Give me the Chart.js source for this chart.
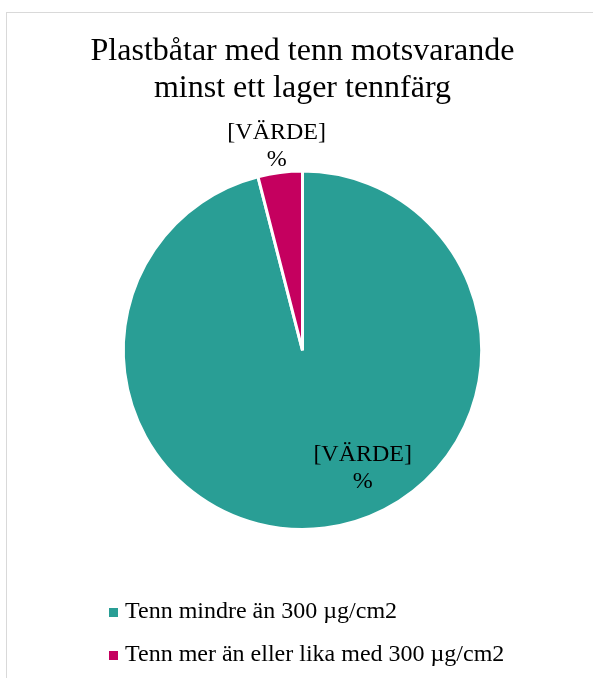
<!DOCTYPE html>
<html>
<head>
<meta charset="utf-8">
<script src="https://cdn.jsdelivr.net/npm/chart.js@4/dist/chart.umd.min.js"></script>
<style>
    html, body { margin: 0; padding: 0; background: #fff; }
    body { width: 593px; height: 678px; position: relative; overflow: hidden; }
    .frame {
        position: absolute; left: 6px; top: 12px; width: 700px; height: 700px;
        border: 1px solid #d9d9d9; box-sizing: border-box;
    }
    .chart-box { position: absolute; left: 0; top: 0; width: 593px; height: 678px; }
    #legend {
        position: absolute; left: 109px; top: 589px;
        font-family: 'Liberation Serif', 'Times New Roman', serif; font-size: 24px; color: #000;
    }
    #legend .item { line-height: 43px; white-space: nowrap; }
    #legend .box {
        display: inline-block; width: 9px; height: 9px; margin-right: 7px; vertical-align: middle;
    }
</style>
</head>
<body>
<div class="frame"></div>
<div class="chart-box"><canvas id="pieChart" width="593" height="678"></canvas></div>
<div id="legend"></div>

<script>
// data
const titleLines = ['Plastbåtar med tenn motsvarande', 'minst ett lager tennfärg'];
const categories = ['Tenn mindre än 300 µg/cm2', 'Tenn mer än eller lika med 300 µg/cm2'];
const shares = [96, 4];
const sliceLabels = [['[VÄRDE]', '%'], ['[VÄRDE]', '%']];
const sliceColors = ['#299E95', '#C5005F'];

const SERIF = "'Liberation Serif', 'Times New Roman', serif";

// where each data label goes: angle in degrees clockwise from top (null = slice middle), distance as share of radius
const labelSpots = [
    { angle: 153, dist: 0.74 },
    { angle: null, dist: 1.15 }
];

const pieLabels = {
    id: 'pieLabels',
    afterDatasetsDraw(chart) {
        const ctx = chart.ctx;
        const arcs = chart.getDatasetMeta(0).data;
        ctx.save();
        ctx.font = '24px ' + SERIF;
        ctx.fillStyle = '#000';
        ctx.textAlign = 'center';
        ctx.textBaseline = 'middle';
        arcs.forEach((arc, i) => {
            const p = arc.getProps(['x', 'y', 'startAngle', 'endAngle', 'outerRadius'], true);
            const spot = labelSpots[i];
            const a = spot.angle === null
                ? (p.startAngle + p.endAngle) / 2
                : (spot.angle - 90) * Math.PI / 180;
            const r = p.outerRadius * spot.dist;
            const cx = p.x + Math.cos(a) * r;
            const cy = p.y + Math.sin(a) * r;
            const lines = sliceLabels[i];
            const lh = 27;
            lines.forEach((t, k) => {
                ctx.fillText(t, cx, cy + (k - (lines.length - 1) / 2) * lh);
            });
        });
        ctx.restore();
    }
};

const ctx = document.getElementById('pieChart').getContext('2d');
const pieChart = new Chart(ctx, {
    type: 'pie',
    data: {
        labels: categories,
        datasets: [{
            data: shares,
            backgroundColor: sliceColors,
            borderColor: '#ffffff',
            borderWidth: 3,
            hoverOffset: 0
        }]
    },
    options: {
        responsive: false,
        animation: false,
        layout: { padding: { left: 12, right: 0, top: 0, bottom: 147 } },
        plugins: {
            legend: { display: false },
            tooltip: { enabled: false },
            title: {
                display: true,
                text: titleLines,
                color: '#000',
                font: { family: SERIF, size: 32, weight: 'normal', lineHeight: 1.15 },
                padding: { top: 33, bottom: 63 }
            }
        }
    },
    plugins: [pieLabels]
});

// html legend, vertical like the original
const legendEl = document.getElementById('legend');
categories.forEach((name, i) => {
    const row = document.createElement('div');
    row.className = 'item';
    const box = document.createElement('span');
    box.className = 'box';
    box.style.background = sliceColors[i];
    row.appendChild(box);
    row.appendChild(document.createTextNode(name));
    legendEl.appendChild(row);
});
</script>
</body>
</html>
